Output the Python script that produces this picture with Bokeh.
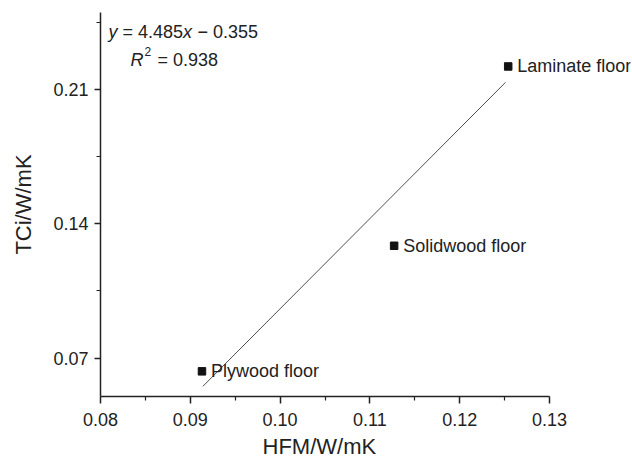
from bokeh.plotting import figure
from bokeh.models import ColumnDataSource, FixedTicker, PrintfTickFormatter, Label, Range1d, Title
from bokeh.embed import file_html
from bokeh.resources import INLINE
from bokeh.core.properties import value

# ---- data ----
names = ["Laminate floor", "Solidwood floor", "Plywood floor"]
hfm = [0.1254, 0.1127, 0.0913]
tci = [0.2219, 0.1285, 0.0631]

# fitted line end points (as drawn)
fit_x = [0.0914, 0.1251]
fit_y = [0.0553, 0.2136]

x_ticks = [0.08, 0.09, 0.10, 0.11, 0.12, 0.13]
x_minor = [0.085, 0.095, 0.105, 0.115, 0.125]
y_ticks = [0.07, 0.14, 0.21]
y_minor = [0.105, 0.175, 0.245]

x_title = "HFM/W/mK"
y_title = "TCi/W/mK"

FONT = "Liberation Sans"
W, H = 632, 463
L, R, T, B = 100, 2, 12, 67
AX0, AX1 = 0.08, 0.13          # drawn extent of the x axis
PX_PER_UNIT = 8980.0           # 0.01 -> 89.8 px
X0 = AX0
X1 = AX0 + (W - L - R) / PX_PER_UNIT
Y0, Y1 = 0.05, 0.25

p = figure(width=W, height=H, output_backend="svg", toolbar_location=None,
           x_range=Range1d(X0, X1), y_range=Range1d(Y0, Y1),
           min_border_left=L, min_border_right=R, min_border_top=T, min_border_bottom=B)
p.outline_line_color = None
p.xgrid.visible = False
p.ygrid.visible = False
p.background_fill_color = "white"
p.border_fill_color = "white"

src = ColumnDataSource(dict(x=hfm, y=tci, name=names))
p.line(fit_x, fit_y, line_color="#222222", line_width=0.8)
p.scatter("x", "y", source=src, marker="square", size=7.5, fill_color="#111111", line_color="#111111")
p.text("x", "y", text="name", source=src, x_offset=9, text_baseline="middle", text_align="left",
       text_font=value(FONT), text_font_size="18px", text_color="#222222")

for ax, ticks, minor in ((p.xaxis[0], x_ticks, x_minor), (p.yaxis[0], y_ticks, y_minor)):
    ax.ticker = FixedTicker(ticks=ticks, minor_ticks=minor)
    ax.formatter = PrintfTickFormatter(format="%.2f")
    ax.axis_line_width = 1.5
    ax.axis_line_color = "#222222"
    ax.major_tick_line_width = 1.5
    ax.minor_tick_line_width = 1.2
    ax.major_tick_line_color = "#222222"
    ax.minor_tick_line_color = "#222222"
    ax.major_tick_in = 0
    ax.minor_tick_in = 0
    ax.major_label_text_font = FONT
    ax.major_label_text_font_size = "18px"
    ax.major_label_text_color = "#222222"
    ax.axis_label_text_font = FONT
    ax.axis_label_text_font_size = "22px"
    ax.axis_label_text_font_style = "normal"
    ax.axis_label_text_color = "#222222"

p.xaxis.bounds = (AX0, AX1)
p.yaxis.axis_label = y_title
p.xaxis.major_tick_out = 7
p.xaxis.minor_tick_out = 4
p.yaxis.major_tick_out = 6
p.yaxis.minor_tick_out = 4
p.xaxis.major_label_standoff = 9
p.yaxis.major_label_standoff = 6
p.yaxis.axis_label_standoff = 14

# x axis title as a side-panel title, centred under the drawn axis (not clipped by the frame)
p.add_layout(Title(text=x_title, align="left", offset=162, text_font=FONT,
                   text_font_size="22px", text_font_style="normal", text_color="#222222",
                   standoff=7), "below")


def dx(px):
    return X0 + (px - L) / PX_PER_UNIT


def dy(py):
    return Y1 - (py - T) / (H - T - B) * (Y1 - Y0)


def lab(px, py, text, size="18px", style="normal", align="left"):
    p.add_layout(Label(x=dx(px), y=dy(py), text=text, text_font=FONT,
                       text_font_size=size, text_font_style=style, text_color="#222222",
                       text_baseline="alphabetic", text_align=align))


# equation annotation
lab(108, 31.7, "y", style="italic")
lab(122, 31.7, "= 4.485")
lab(182.5, 31.7, "x", style="italic")
lab(197, 31.7, "\u2212 0.355")
lab(130, 59, "R", style="italic")
lab(144, 51, "2", size="12px")
lab(157, 59, "= 0.938")

open("out.html", "w").write(file_html(p, INLINE))
